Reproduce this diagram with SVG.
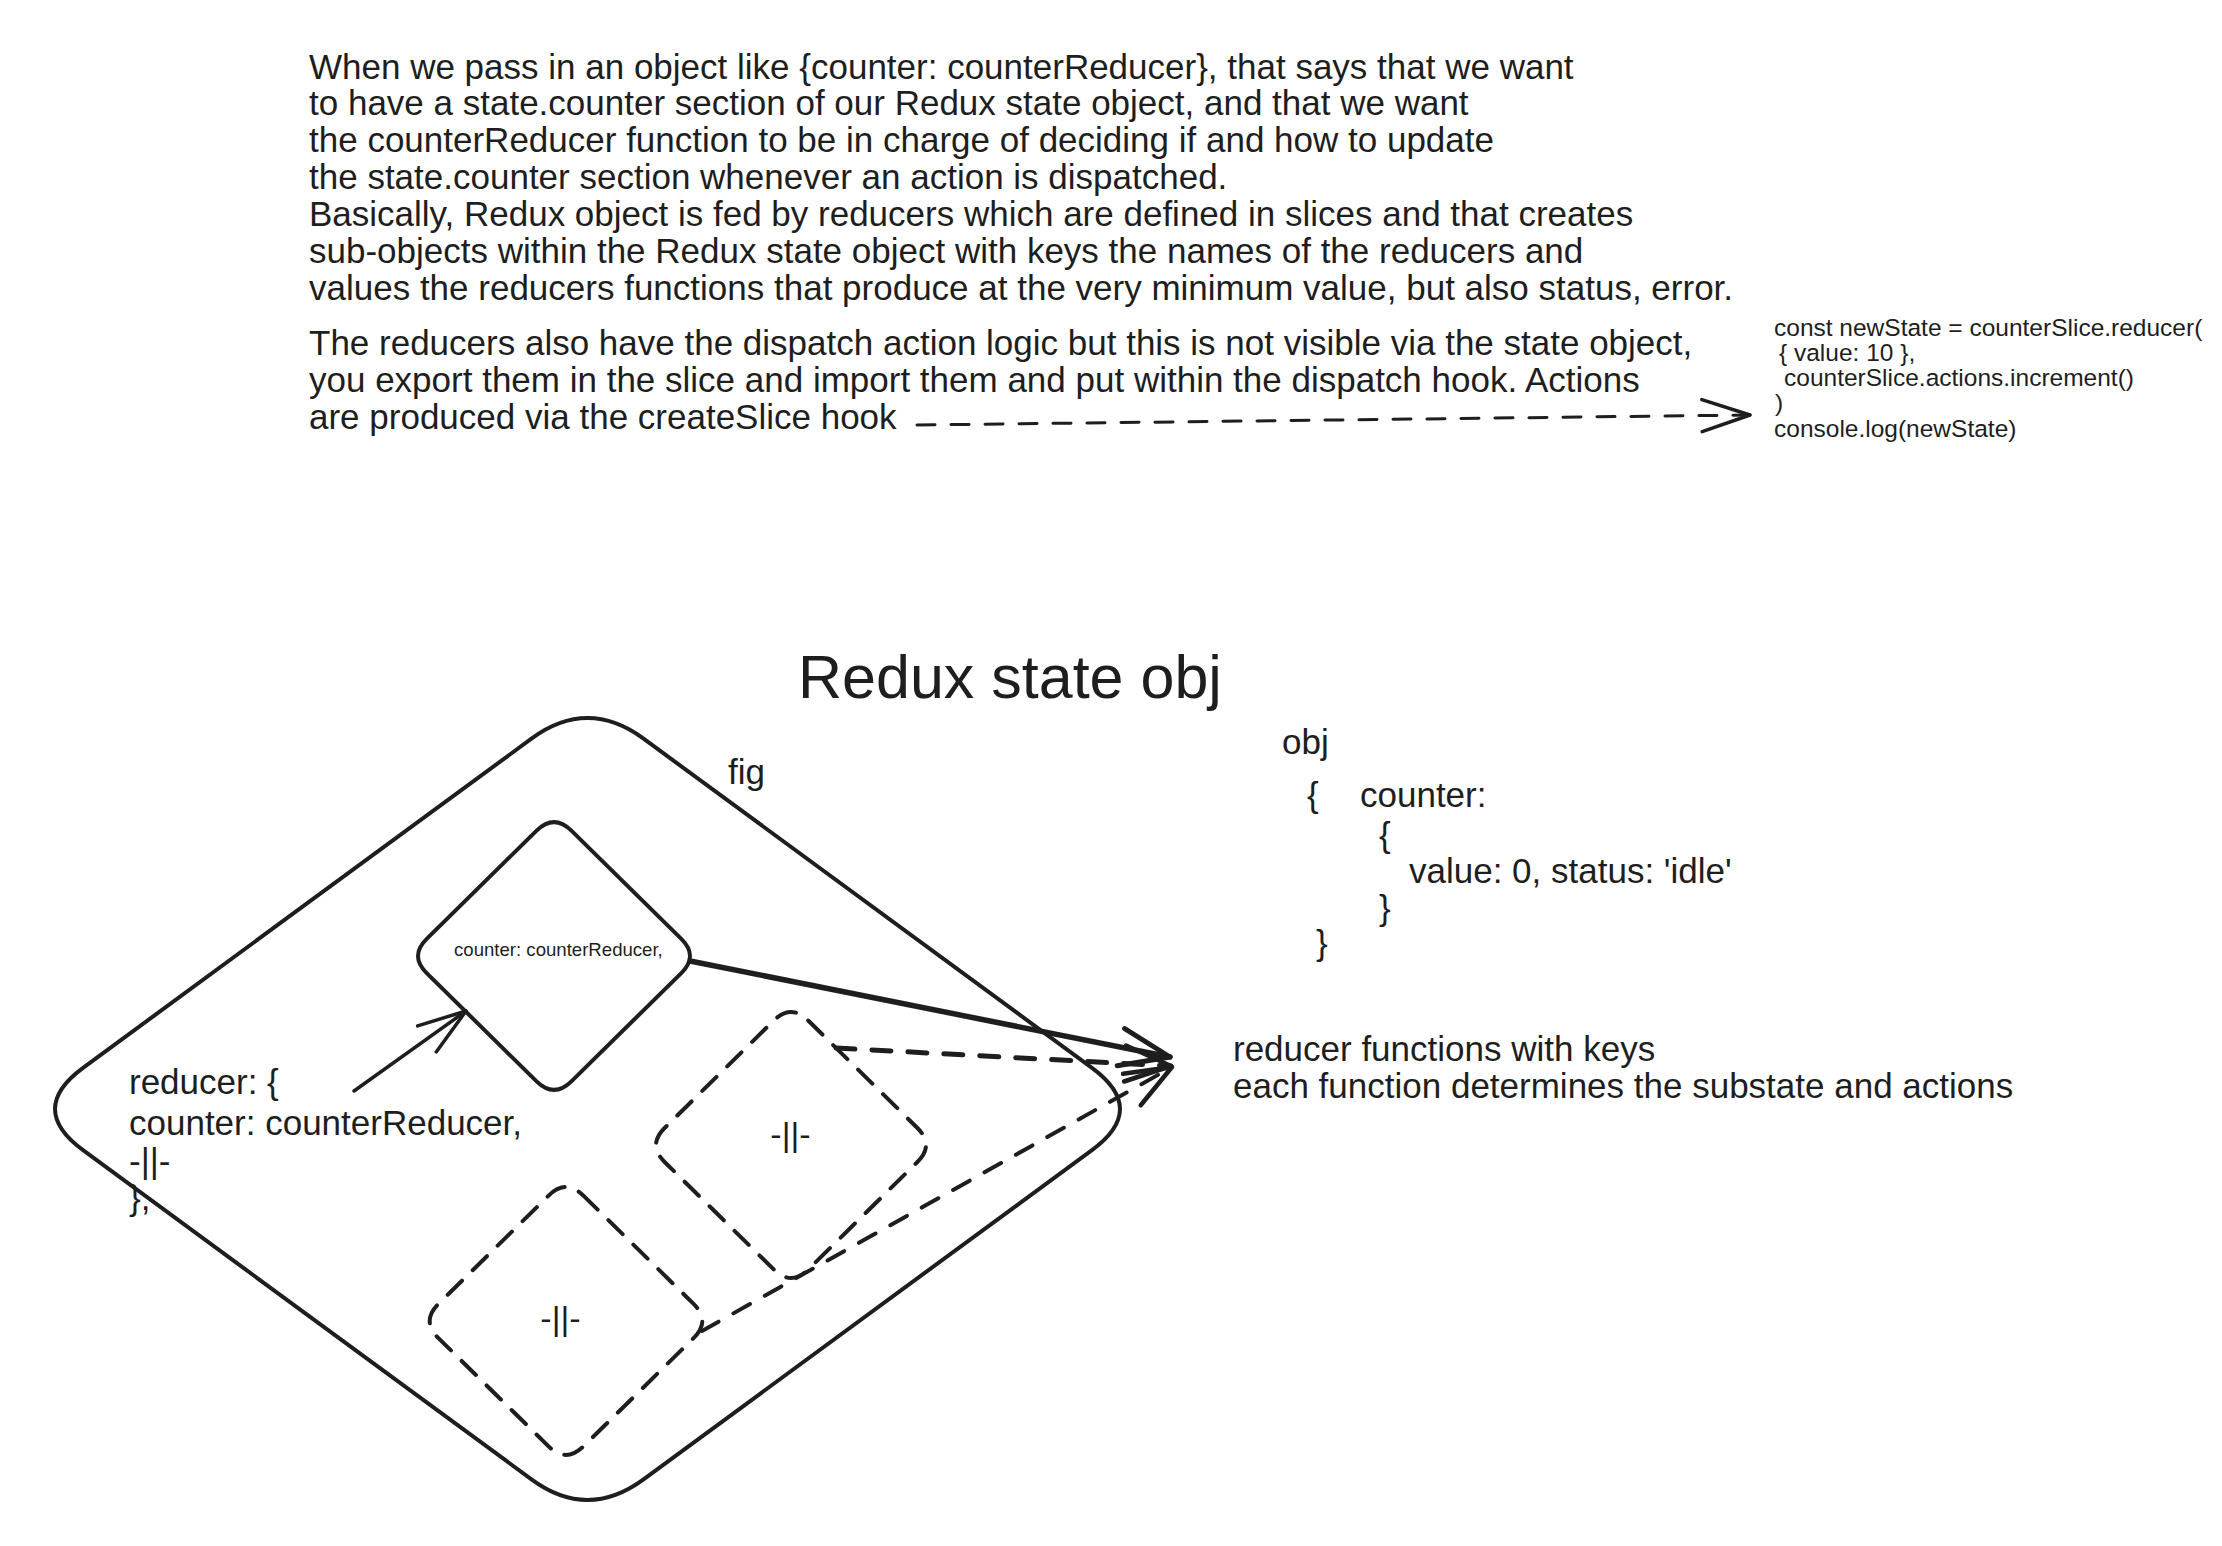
<svg xmlns="http://www.w3.org/2000/svg" width="2222" height="1546" viewBox="0 0 2222 1546">
<style>
text{font-family:"Liberation Sans",Arial,Helvetica,sans-serif;fill:#1e1e1e}
.p{font-size:35px}
.lbl{font-size:34px}
.code{font-size:24.5px}
.small{font-size:18.6px}
.title{font-size:61px}
.shape{fill:none;stroke:#1e1e1e;stroke-linejoin:round;stroke-linecap:round}
.solid{stroke-width:4}
.dash{stroke-width:4;stroke-dasharray:20 15}
.conn{fill:none;stroke:#1e1e1e;stroke-linecap:round;stroke-linejoin:round}
</style>
<defs>
<marker id="ahThick" markerUnits="userSpaceOnUse" viewBox="-60 -30 70 60" refX="0" refY="0" markerWidth="70" markerHeight="60" orient="auto">
<path d="M-50,-19 L0,0 L-50,19" fill="none" stroke="#1e1e1e" stroke-width="5" stroke-linecap="round" stroke-linejoin="round"/>
</marker>
<marker id="ah" markerUnits="userSpaceOnUse" viewBox="-60 -30 70 60" refX="0" refY="0" markerWidth="70" markerHeight="60" orient="auto">
<path d="M-46,-18 L0,0 L-46,18" fill="none" stroke="#1e1e1e" stroke-width="4.5" stroke-linecap="round" stroke-linejoin="round"/>
</marker>
<marker id="ahThin" markerUnits="userSpaceOnUse" viewBox="-60 -30 70 60" refX="0" refY="0" markerWidth="70" markerHeight="60" orient="auto">
<path d="M-48,-16 L0,0 L-48,16" fill="none" stroke="#1e1e1e" stroke-width="3.5" stroke-linecap="round" stroke-linejoin="round"/>
</marker>
</defs>
<rect width="2222" height="1546" fill="#ffffff"/>

<g id="note-top">
<text class="p">
<tspan x="309" y="78.5">When we pass in an object like {counter: counterReducer}, that says that we want</tspan>
<tspan x="309" y="115.3">to have a state.counter section of our Redux state object, and that we want</tspan>
<tspan x="309" y="152.2">the counterReducer function to be in charge of deciding if and how to update</tspan>
<tspan x="309" y="189">the state.counter section whenever an action is dispatched.</tspan>
<tspan x="309" y="225.9">Basically, Redux object is fed by reducers which are defined in slices and that creates</tspan>
<tspan x="309" y="262.7">sub-objects within the Redux state object with keys the names of the reducers and</tspan>
<tspan x="309" y="299.6">values the reducers functions that produce at the very minimum value, but also status, error.</tspan>
</text>
</g>

<g id="note-actions">
<text class="p">
<tspan x="309" y="355">The reducers also have the dispatch action logic but this is not visible via the state object,</tspan>
<tspan x="309" y="392">you export them in the slice and import them and put within the dispatch hook. Actions</tspan>
<tspan x="309" y="428.6">are produced via the createSlice hook</tspan>
</text>
</g>

<g id="code-example">
<text class="code">
<tspan x="1774" y="336">const newState = counterSlice.reducer(</tspan>
<tspan x="1779" y="360.7">{ value: 10 },</tspan>
<tspan x="1784" y="386">counterSlice.actions.increment()</tspan>
<tspan x="1775" y="411">)</tspan>
<tspan x="1774" y="437">console.log(newState)</tspan>
</text>
</g>

<g id="title">
<text class="title" x="798" y="698">Redux state obj</text>
</g>

<g id="fig-outer">
<path class="shape solid" d="M643.55,738.65 L1091.95,1067.85 Q1148,1109 1091.95,1150.15 L643.55,1479.35 Q587.5,1520.5 531.45,1479.35 L83.05,1150.15 Q27,1109 83.05,1067.85 L531.45,738.65 Q587.5,697.5 643.55,738.65 Z"/>
<text class="p" x="728" y="784">fig</text>
</g>

<g id="reducer-counter">
<path class="shape" stroke-width="4" d="M571.4,830.6 L681.3,938.9 Q698.7,956 681.3,973.1 L571.4,1081.4 Q554,1098.5 536.6,1081.4 L426.7,973.1 Q409.3,956 426.7,938.9 L536.6,830.6 Q554,813.5 571.4,830.6 Z"/>
<text class="small" x="454" y="956">counter: counterReducer,</text>
</g>

<g id="reducer-2">
<path class="shape dash" d="M808.2,1020.5 L917.4,1128 Q934.6,1145 917.4,1162 L808.2,1269.5 Q791,1286.5 773.8,1269.5 L664.6,1162 Q647.4,1145 664.6,1128 L773.8,1020.5 Q791,1003.5 808.2,1020.5 Z"/>
<text class="lbl" x="790.5" y="1146" text-anchor="middle">-||-</text>
</g>

<g id="reducer-3">
<path class="shape dash" d="M583.4,1195.6 L693.6,1303.9 Q711,1321 693.6,1338.1 L583.4,1446.4 Q566,1463.5 548.6,1446.4 L438.4,1338.1 Q421,1321 438.4,1303.9 L548.6,1195.6 Q566,1178.5 583.4,1195.6 Z"/>
<text class="lbl" x="560.5" y="1330" text-anchor="middle">-||-</text>
</g>

<g id="reducer-code">
<text class="p">
<tspan x="129" y="1094">reducer: {</tspan>
<tspan x="129" y="1135">counter: counterReducer,</tspan>
<tspan x="129" y="1173">-||-</tspan>
<tspan x="129" y="1210">},</tspan>
</text>
</g>

<g id="state-obj">
<text class="p">
<tspan x="1282" y="754">obj</tspan>
<tspan x="1307" y="807">{</tspan>
<tspan x="1360" y="807">counter:</tspan>
<tspan x="1379" y="847">{</tspan>
<tspan x="1409" y="883">value: 0, status: 'idle'</tspan>
<tspan x="1379" y="920">}</tspan>
<tspan x="1316" y="955">}</tspan>
</text>
</g>

<g id="reducer-functions">
<text class="p">
<tspan x="1233" y="1061">reducer functions with keys</tspan>
<tspan x="1233" y="1098">each function determines the substate and actions</tspan>
</text>
</g>

<g id="connectors">
<path class="conn" stroke-width="3" stroke-dasharray="18 16" d="M917,425 L1750,415" marker-end="url(#ahThin)"/>
<path class="conn" stroke-width="5.5" d="M690,961 L1170,1057" marker-end="url(#ahThick)"/>
<path class="conn" stroke-width="5" stroke-dasharray="19 17" d="M836,1048 L1171,1066" marker-end="url(#ah)"/>
<path class="conn" stroke-width="4" stroke-dasharray="19 17" d="M702,1331 L1172,1067" marker-end="url(#ah)"/>
<path class="conn" stroke-width="3.5" d="M354,1091 L466,1011" marker-end="url(#ahThin)"/>
</g>
</svg>
